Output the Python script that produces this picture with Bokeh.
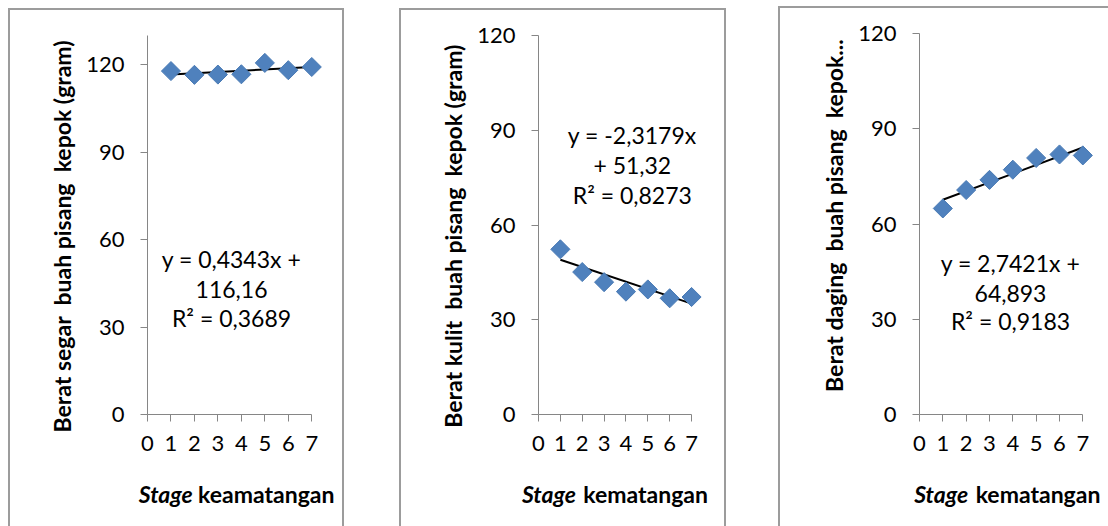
from bokeh.plotting import figure
from bokeh.models import Range1d, FixedTicker, Label, LinearAxis
from bokeh.layouts import row
from bokeh.embed import file_html
from bokeh.resources import INLINE
import numpy as np

# ---- data ----
stages = [1, 2, 3, 4, 5, 6, 7]
x_ticks = [0, 1, 2, 3, 4, 5, 6, 7]
y_ticks = [0, 30, 60, 90, 120]
berat_segar = [117.8, 116.5, 116.6, 116.7, 120.6, 118.1, 119.2]
berat_kulit = [52.3, 45.1, 41.9, 38.9, 39.6, 36.8, 37.2]
berat_daging = [64.9, 70.7, 73.9, 77.1, 80.8, 81.9, 81.6]
slopes = [0.4343, -2.3179, 2.7421]
intercepts = [116.16, 51.32, 64.893]
y_max = [130, 120, 120]
eq_texts = [
    ["y = 0,4343x +", "116,16", "R² = 0,3689"],
    ["y = -2,3179x", "+ 51,32", "R² = 0,8273"],
    ["y = 2,7421x +", "64,893", "R² = 0,9183"],
]
y_titles = [
    "Berat segar \u00a0buah pisang \u00a0kepok (gram)",
    "Berat kulit \u00a0buah pisang \u00a0kepok (gram)",
    "Berat daging \u00a0buah pisang \u00a0kepok...",
]
x_title_italic = "Stage"
x_titles = ["keamatangan", "kematangan", "kematangan"]
series = [berat_segar, berat_kulit, berat_daging]

# ---- layout (positions / styles) ----
BORDER = "2px solid #9c9c9c"
NB = "\u00a0"
layout = [
    dict(width=332, height=516, mbl=137, mbr=23, mbt=25, mbb=114, margin=(8, 0, 0, 8),
         sides=("top", "left", "right"), pad_pre=0, pad_post=4,
         eq_x=3.58, eq_y=[53.5, 42.8, 33.0], st_x=0.78, km_x=5.06),
    dict(width=323, height=516, mbl=137, mbr=26, mbt=24, mbb=114, margin=(8, 0, 0, 55),
         sides=("top", "left", "right"), pad_pre=0, pad_post=4,
         eq_x=4.29, eq_y=[88.6, 79.0, 69.5], st_x=0.48, km_x=4.90),
    dict(width=328, height=518, mbl=139, mbr=16, mbt=25, mbb=114, margin=(6, 0, 0, 52),
         sides=("top", "left"), pad_pre=3, pad_post=0,
         eq_x=3.9, eq_y=[47.6, 38.2, 29.3], st_x=0.93, km_x=5.08),
]
FONT = "Lato"
AXIS_COLOR = "#868686"
TITLE_STANDOFF = 26
TITLE_H = 31

figs = []
for i in range(3):
    L = layout[i]
    p = figure(width=L["width"], height=L["height"], output_backend="svg", toolbar_location=None,
               x_range=Range1d(0, 7.5), y_range=Range1d(0, y_max[i]),
               min_border_left=L["mbl"], min_border_right=L["mbr"],
               min_border_top=L["mbt"], min_border_bottom=L["mbb"],
               margin=L["margin"])
    p.outline_line_color = None
    p.grid.visible = False
    p.background_fill_color = "white"
    p.border_fill_color = "white"
    st = {"box-sizing": "content-box"}
    for s in L["sides"]:
        st["border-" + s] = BORDER
    p.styles = st

    for ax in (p.xaxis[0], p.yaxis[0]):
        ax.axis_line_color = AXIS_COLOR
        ax.major_tick_line_color = AXIS_COLOR
        ax.minor_tick_line_color = None
        ax.major_tick_in = 0
        ax.major_tick_out = 7
        ax.major_label_text_font = FONT
        ax.major_label_text_font_size = "22px"
        ax.major_label_text_color = "#000000"
    p.xaxis.ticker = FixedTicker(ticks=x_ticks)
    p.xaxis.bounds = (0, 7)
    p.xaxis.major_label_standoff = 14
    p.yaxis.ticker = FixedTicker(ticks=y_ticks)
    p.yaxis.major_label_standoff = 16
    p.yaxis.axis_label = NB * L["pad_pre"] + y_titles[i] + NB * L["pad_post"]
    p.yaxis.axis_label_text_font = FONT
    p.yaxis.axis_label_text_font_style = "bold"
    p.yaxis.axis_label_text_font_size = "23px"
    p.yaxis.axis_label_text_color = "#000000"
    p.yaxis.axis_label_standoff = 7

    # x-axis title as two label-only axes: italic "Stage" + bold rest
    for k, (txt, pos, style, size) in enumerate([(x_title_italic, L["st_x"], "bold italic", "23px"),
                                                 (x_titles[i], L["km_x"], "bold", "23px")]):
        ta = LinearAxis(ticker=FixedTicker(ticks=[pos]),
                        major_label_overrides={pos: txt})
        ta.axis_line_color = None
        ta.major_tick_line_color = None
        ta.minor_tick_line_color = None
        ta.major_tick_in = 0
        ta.major_tick_out = 0
        ta.major_label_text_font = FONT
        ta.major_label_text_font_size = size
        ta.major_label_text_font_style = style
        ta.major_label_text_color = "#000000"
        ta.major_label_standoff = TITLE_STANDOFF if k == 0 else -TITLE_H
        p.add_layout(ta, "below")

    # trendline
    tx = np.array([stages[0], stages[-1]], dtype=float)
    ty = slopes[i] * tx + intercepts[i]
    p.line(tx, ty, line_color="black", line_width=2)

    # markers (rotated squares = Excel diamonds)
    p.scatter(stages, series[i], marker="square", size=13.5, angle=np.pi / 4,
              fill_color="#4F81BD", line_color="#4A7BB5", line_width=1)

    # equation label
    for t, yy in zip(eq_texts[i], L["eq_y"]):
        p.add_layout(Label(x=L["eq_x"], y=yy, text=t, text_align="center",
                           text_baseline="middle", text_font=FONT,
                           text_font_size="23px", text_color="#000000"))
    figs.append(p)

lay = row(*figs)
open("out.html", "w").write(file_html(lay, INLINE))
